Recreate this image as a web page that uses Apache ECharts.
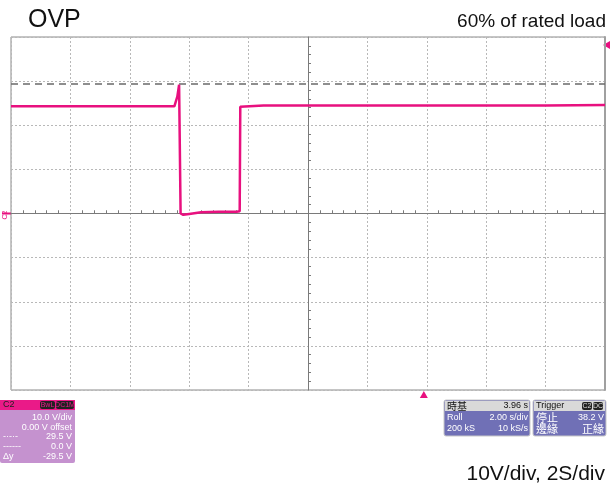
<!DOCTYPE html>
<html>
<head>
<meta charset="utf-8">
<script src="https://cdn.jsdelivr.net/npm/echarts@6/dist/echarts.min.js"></script>
<style>
  html, body { margin: 0; padding: 0; background: #fff; }
  #chart { width: 612px; height: 489px; }
</style>
</head>
<body>
<div id="chart"></div>
<script>
// waveform of C2 (time in s, voltage in V)
var times = [0, 1.5, 3.0, 4.5, 5.5, 5.56, 5.60, 5.66, 5.70, 5.71, 5.80, 6.00, 6.40, 7.00, 7.60, 7.70, 7.72, 7.76, 8.5, 10, 12, 14, 16, 18, 20];
var volts = [24.3, 24.3, 24.3, 24.3, 24.3, 24.4, 26.5, 29.2, 29.3, 0.0, -0.3, -0.1, 0.3, 0.4, 0.4, 0.5, 24.2, 24.5, 24.5, 24.5, 24.5, 24.5, 24.5, 24.5, 24.6];
var cursorA = 29.5;
var trigLevel = 38.2;
var trigTime = 13.9;
var timeTicks = [0, 2, 4, 6, 8, 10, 12, 14, 16, 18, 20];
var voltTicks = [-40, -30, -20, -10, 0, 10, 20, 30, 40];

var pink = '#e8107f';
var gridGray = '#b8b8b8';
var axisGray = '#7a7a7a';

var chartDom = document.getElementById('chart');
var myChart = echarts.init(chartDom);

var data = times.map(function (t, i) { return [t, volts[i]]; });

function txt(x, y, s, opt) {
    opt = opt || {};
    return {
        type: 'text', x: x, y: y, silent: true,
        style: {
            text: s,
            fill: opt.fill || '#fff',
            font: (opt.size || 9) + 'px ' + (opt.family || '"Liberation Sans", Arial, sans-serif'),
            align: opt.align || 'left',
            verticalAlign: 'middle'
        }
    };
}

var graphics = [
    { type: 'text', left: 28, top: 8, style: { text: 'OVP', fill: '#111', font: '25px "Liberation Sans", Arial, sans-serif' } },
    { type: 'text', right: 6, top: 12, style: { text: '60% of rated load', fill: '#111', font: '19px "Liberation Sans", Arial, sans-serif' } },
    { type: 'text', right: 7, top: 464, style: { text: '10V/div, 2S/div', fill: '#111', font: '21px "Liberation Sans", Arial, sans-serif' } },

    // C2 channel box
    { type: 'rect', shape: { x: 0, y: 400, width: 75, height: 63, r: 2 }, style: { fill: '#c592cf' } },
    { type: 'rect', shape: { x: 0, y: 400, width: 75, height: 10 }, style: { fill: '#ea1a88' } },
    txt(3, 405, 'C2', { fill: '#222' }),
    { type: 'rect', shape: { x: 40, y: 401, width: 15, height: 8, r: 2 }, style: { fill: '#222' } },
    { type: 'rect', shape: { x: 56, y: 401, width: 18, height: 8, r: 2 }, style: { fill: '#222' } },
    txt(47.5, 405, 'BwL', { fill: '#ea1a88', size: 7, align: 'center' }),
    txt(65, 405, 'DC1M', { fill: '#ea1a88', size: 7, align: 'center' }),
    txt(72, 418, '10.0 V/div', { align: 'right' }),
    txt(72, 428, '0.00 V offset', { align: 'right' }),
    txt(3, 437, '-·-·-', {}),
    txt(72, 437, '29.5 V', { align: 'right' }),
    txt(3, 447, '------', {}),
    txt(72, 447, '0.0 V', { align: 'right' }),
    txt(3, 457, 'Δy', {}),
    txt(72, 457, '-29.5 V', { align: 'right' }),

    // timebase box
    { type: 'rect', shape: { x: 444, y: 400, width: 86, height: 36, r: 2 }, style: { fill: '#7070b6', stroke: '#c8c8c8', lineWidth: 1 } },
    { type: 'rect', shape: { x: 445, y: 401, width: 84, height: 10 }, style: { fill: '#d9d9d9' } },
    txt(447, 406, '時基', { fill: '#111', size: 10, family: '"Noto Sans CJK TC", sans-serif' }),
    txt(528, 406, '3.96 s', { fill: '#111', align: 'right' }),
    txt(447, 418, 'Roll', {}),
    txt(528, 418, '2.00 s/div', { align: 'right' }),
    txt(447, 429, '200 kS', {}),
    txt(528, 429, '10 kS/s', { align: 'right' }),

    // trigger box
    { type: 'rect', shape: { x: 533, y: 400, width: 73, height: 36, r: 2 }, style: { fill: '#7070b6', stroke: '#c8c8c8', lineWidth: 1 } },
    { type: 'rect', shape: { x: 534, y: 401, width: 71, height: 10 }, style: { fill: '#d9d9d9' } },
    txt(536, 406, 'Trigger', { fill: '#111' }),
    { type: 'rect', shape: { x: 582, y: 402, width: 10, height: 8, r: 2 }, style: { fill: '#222' } },
    { type: 'rect', shape: { x: 593, y: 402, width: 10, height: 8, r: 2 }, style: { fill: '#222' } },
    txt(587, 406, 'C2', { fill: '#ddd', size: 7, align: 'center' }),
    txt(598, 406, 'DC', { fill: '#ddd', size: 7, align: 'center' }),
    txt(536, 418, '停止', { size: 11, family: '"Noto Sans CJK TC", sans-serif' }),
    txt(604, 418, '38.2 V', { align: 'right' }),
    txt(536, 429, '邊緣', { size: 11, family: '"Noto Sans CJK TC", sans-serif' }),
    txt(604, 429, '正緣', { align: 'right', size: 11, family: '"Noto Sans CJK TC", sans-serif' })
];

var option = {
    backgroundColor: '#fff',
    animation: false,
    grid: {
        left: 11, right: 7, top: 37, bottom: 99,
        show: true, borderColor: '#8a8a8a', borderWidth: 1
    },
    xAxis: [
        {
            type: 'value', min: timeTicks[0], max: timeTicks[timeTicks.length - 1], interval: 2,
            axisLine: { onZero: true, lineStyle: { color: axisGray, width: 1 } },
            axisTick: { show: false, inside: true },
            minorTick: { show: true, splitNumber: 5, length: 3, lineStyle: { color: axisGray } },
            axisLabel: { show: false },
            splitLine: { show: true, lineStyle: { color: gridGray, type: [2, 2] } },
            minorSplitLine: { show: false }
        },
        {
            type: 'value', min: timeTicks[0], max: timeTicks[timeTicks.length - 1], interval: 2,
            axisLine: { onZero: true, lineStyle: { color: axisGray, width: 1 } },
            axisTick: { show: false, inside: false },
            minorTick: { show: true, splitNumber: 5, length: 3, lineStyle: { color: axisGray } },
            axisLabel: { show: false },
            splitLine: { show: false }
        },
        {
            type: 'value', min: -10, max: 10, show: false
        }
    ],
    yAxis: [
        {
            type: 'value', min: voltTicks[0], max: voltTicks[voltTicks.length - 1], interval: 10,
            axisLine: { onZero: true, onZeroAxisIndex: 2, lineStyle: { color: axisGray, width: 1 } },
            axisTick: { show: false, inside: true },
            minorTick: { show: true, splitNumber: 5, length: 3, lineStyle: { color: axisGray } },
            axisLabel: { show: false },
            splitLine: { show: true, lineStyle: { color: gridGray, type: [2, 2] } }
        },
        {
            type: 'value', min: voltTicks[0], max: voltTicks[voltTicks.length - 1], interval: 10,
            position: 'right',
            axisLine: { show: true, onZero: false, lineStyle: { color: '#a0a0a0', width: 2 } },
            axisTick: { show: false },
            axisLabel: { show: false },
            splitLine: { show: false }
        }
    ],
    series: [{
        type: 'line',
        data: data,
        symbol: 'none',
        lineStyle: { color: pink, width: 2.5 },
        z: 5,
        markLine: {
            silent: true,
            symbol: 'none',
            label: { show: false },
            lineStyle: { color: '#6a6a6a', type: [7, 5], width: 1.5 },
            data: [{ yAxis: cursorA }]
        }
    }],
    graphic: graphics
};

myChart.setOption(option);

// trigger markers and channel marker, placed through the axes
var pTrig = myChart.convertToPixel({ xAxisIndex: 0, yAxisIndex: 0 }, [trigTime, trigLevel]);
var pZero = myChart.convertToPixel({ xAxisIndex: 0, yAxisIndex: 0 }, [0, 0]);
var pBottom = myChart.convertToPixel({ xAxisIndex: 0, yAxisIndex: 0 }, [trigTime, voltTicks[0]]);
graphics.push(
    { type: 'polygon', shape: { points: [[603, pTrig[1]], [610, pTrig[1] - 4], [610, pTrig[1] + 4]] }, style: { fill: pink } },
    { type: 'polygon', shape: { points: [[pTrig[0], pBottom[1] + 1], [pTrig[0] - 4, pBottom[1] + 8], [pTrig[0] + 4, pBottom[1] + 8]] }, style: { fill: pink } },
    { type: 'rect', shape: { x: 2, y: pZero[1] - 1, width: pZero[0] - 2, height: 2 }, style: { fill: pink } },
    { type: 'text', x: 2, y: pZero[1] - 3, rotation: Math.PI / 2, style: { text: 'C2', fill: pink, font: '7px "Liberation Sans", sans-serif', align: 'right', verticalAlign: 'top' } }
);
myChart.setOption({ graphic: graphics });
</script>
</body>
</html>
